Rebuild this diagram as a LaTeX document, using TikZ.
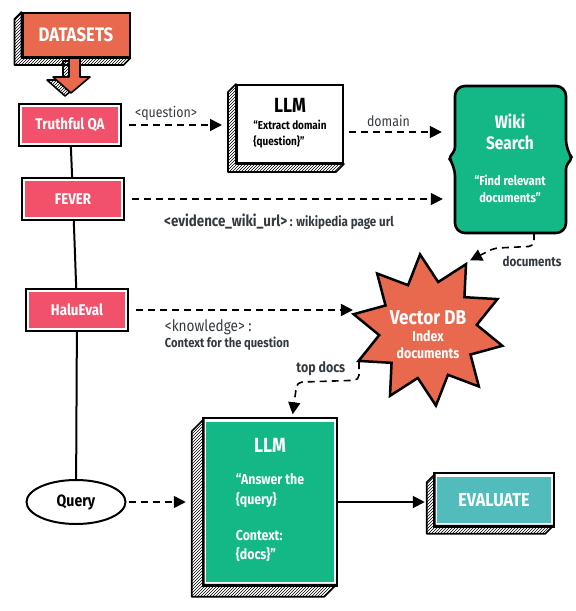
\documentclass[tikz,border=0pt]{standalone}
\usepackage{fontspec}
\setmainfont{Fira Sans}[FakeStretch=0.86]
\usetikzlibrary{arrows.meta,patterns,shapes.geometric,positioning}
\definecolor{dsred}{HTML}{E9694F}
\definecolor{setred}{HTML}{F1516A}
\definecolor{llmgreen}{HTML}{13B886}
\definecolor{evalteal}{HTML}{52BCBC}
\definecolor{ink}{HTML}{343A40}
\newcommand\sz[1]{\bfseries\fontsize{#1}{#1}\selectfont}
\begin{document}
\begin{tikzpicture}[x=1pt,y=-1pt,
  every node/.style={inner sep=0pt},
  fs/.style={font=\sz{#1}},
  setbox/.style={fill=setred,draw=white,line width=2.5pt,minimum width=98pt,minimum height=38pt,
    text=white,fs=15.5,preaction={draw=black,line width=6.5pt}},
  hatch/.style={pattern=north east lines,draw=black,line width=1.6pt,line join=round},
  flow/.style={draw=black,line width=1.6pt,dash pattern=on 7pt off 5pt,
    -{Triangle[length=12pt,width=12pt]}},
  lbl/.style={text=ink,fs=14.4}]
\useasboundingbox (0,0) rectangle (576,611);

\node[fill=dsred,draw=black,line width=2pt,minimum width=107pt,minimum height=44pt,text=white,fs=19.5] (data) at (76,35) {DATASETS};
\node[setbox] (tqa) at (70,125) {Truthful QA};
\node[setbox] (fever) at (73,199) {FEVER};
\node[setbox] (halu) at (77,310) {HaluEval};
\node[draw=black,line width=2pt,ellipse,minimum width=99pt,minimum height=44pt,fs=16.4] (query) at (76,502) {Query};

\node[fill=white,draw=black,line width=2pt,minimum width=106pt,minimum height=78pt] (llma) at (290,124)
  {\begin{tabular}{@{}l@{}}\multicolumn{1}{@{}c@{}}{\sz{20.5}LLM}\\[4pt]
   \sz{11.6}“Extract domain\\[3pt] \sz{11.6}\{question\}”\end{tabular}};

\path[fill=llmgreen,draw=black,line width=2.6pt,rounded corners=10pt] (455,86) -- (566,86) -- (566,150)
  [rounded corners=3pt] -- (572,158) -- (566,166) [rounded corners=10pt] -- (566,233) -- (455,233) -- (455,166)
  [rounded corners=3pt] -- (449,158) -- (455,150) [rounded corners=10pt] -- cycle;
\node[minimum width=114pt,minimum height=146pt,text=white] (wiki) at (510,160)
  {\begin{tabular}{@{}c@{}}\sz{18}Wiki\\[4pt] \sz{18}Search\\[22pt] \sz{13}“Find relevant\\[3pt] \sz{13}documents”\end{tabular}};

\node[star,star points=10,star point ratio=1.55,minimum size=152pt,shape border rotate=6,
  fill=dsred,draw=black,line width=2.5pt] (vdb) at (428,330) {};
\node[text=white] (vdbtext) at (428,336)
  {\begin{tabular}{@{}c@{}}\sz{20}Vector DB\\[3pt] \sz{14.4}Index\\[2pt] \sz{14.4}documents\end{tabular}};

\node[fill=llmgreen,draw=white,line width=2.5pt,minimum width=130pt,minimum height=163pt,text=white,
  preaction={draw=black,line width=6.5pt}] (llmb) at (270,502)
  {\begin{tabular}{@{}l@{}}\multicolumn{1}{@{}c@{}}{\sz{20.5}LLM}\\[17pt]
   \sz{14.4}“Answer the\\[4pt] \sz{14.4}\{query\}\\[22pt]
   \sz{14.4}Context:\\[4pt] \sz{14.4}\{docs\}”\\[2pt]\end{tabular}};

\node[fill=evalteal,draw=white,line width=2.5pt,minimum width=116pt,minimum height=49pt,text=white,fs=18.8,
  preaction={draw=black,line width=6.5pt}] (eval) at (494,500) {EVALUATE};

\foreach \n/\d in {data/7,llma/8,llmb/12,eval/8}
  \filldraw[hatch] (\n.north west) -- ++(-\d,\d) |- ([shift={(-\d pt,-\d pt)}]\n.south east)
    -- (\n.south east) -- (\n.south west) -- cycle;

\filldraw[hatch,shift={(-6,3)}] (69,58) -- (80,58) -- (80,77) -- (90,77) -- (71,93) -- (53,77) -- (69,77) -- cycle;
\filldraw[fill=dsred,draw=black,line width=1.6pt,line join=round] (69,58) -- (80,58) -- (80,77) -- (90,77)
  -- (71,93) -- (53,77) -- (69,77) -- cycle;

\draw[line width=2pt] (tqa) -- (fever) (fever) -- (halu) (halu) -- (query);

\draw[flow,shorten <=9pt,shorten >=14pt] (tqa.east) -- node[lbl,font=\fontsize{14.4}{16}\selectfont,above=4pt,xshift=-12pt] (qlbl) {<question>} (tqa.east -| llma.west);
\draw[flow,shorten <=5pt,shorten >=11pt] ([yshift=-8pt]llma.east) -- node[lbl,font=\fontsize{14.4}{16}\selectfont,above=5pt,xshift=-10pt] (dlbl) {domain} ([yshift=-8pt]llma.east -| wiki.west);
\draw[flow,shorten <=9pt,shorten >=10pt] (fever.east) -- node[lbl,below=14pt,xshift=-9pt,fs=15.5] (ulbl)
  {<evidence\_wiki\_url>{\fontsize{13.5}{15}\selectfont\ : wikipedia page url}} (fever.east -| wiki.west);
\draw[flow,shorten <=9pt,shorten >=18pt] (halu.east) -- node[lbl,below=9pt,xshift=-22pt] (klbl)
  {\begin{tabular}{@{}l@{}}\mdseries\fontsize{15.8}{17}\selectfont <knowledge> :\\[1pt] \sz{13}Context for the question\end{tabular}} (halu.east -| vdb.west);
\draw[flow,rounded corners=5pt,shorten >=3pt] ([xshift=24pt]wiki.south) -- ++(0,13)
  node[lbl,fs=13.5,below=9pt,xshift=-2pt] (dclbl) {documents} -- ++(-40,2) -- (vdb.60);
\draw[flow,rounded corners=5pt,shorten >=5pt] (vdb.205) -- ++(0,18) node[lbl,above left=4pt and 13pt] (tlbl) {top docs}
  -- ++(-62,2) -- ([xshift=22pt]llmb.north);
\draw[flow,shorten <=2pt,shorten >=18pt] (query.east) -- (query.east -| llmb.west);
\draw[line width=2pt,-{Triangle[length=12pt,width=12pt]},shorten >=10pt] (llmb.east) -- (llmb.east -| eval.west);
\end{tikzpicture}
\end{document}
